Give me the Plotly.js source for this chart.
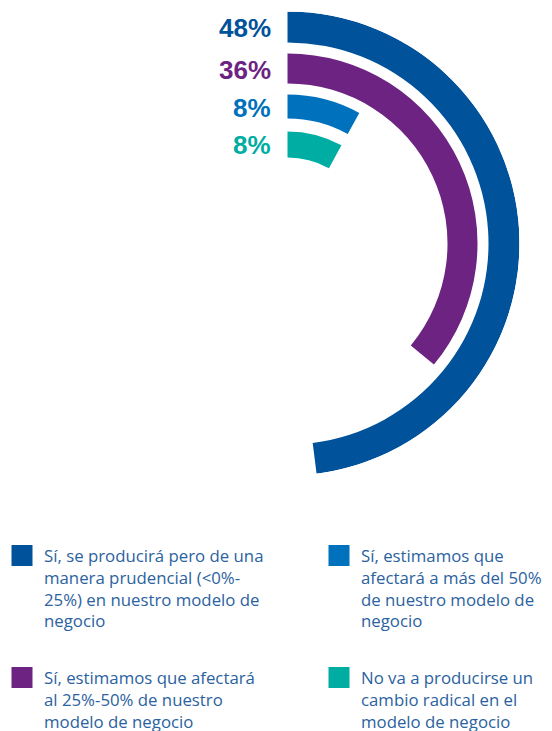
<!DOCTYPE html>
<html>
<head>
<meta charset="utf-8">
<script src="https://cdn.plot.ly/plotly-3.0.1.min.js"></script>
<style>html,body{margin:0;padding:0;background:#fff;}#chart{width:552px;height:731px;}</style>
</head>
<body>
<div id="chart"></div>
<script>
// ---- data ----
var categories = [
  "Sí, se producirá pero de una<br>manera prudencial (&lt;0%-<br>25%) en nuestro modelo de<br>negocio",
  "Sí, estimamos que afectará<br>al 25%-50% de nuestro<br>modelo de negocio",
  "Sí, estimamos que<br>afectará a más del 50%<br>de nuestro modelo de<br>negocio",
  "No va a producirse un<br>cambio radical en el<br>modelo de negocio"
];
var values = [48, 36, 8, 8];
var valueLabels = ["48%", "36%", "8%", "8%"];

// ---- style ----
var colors = ["#00529B", "#6C2382", "#0071BC", "#00ADA2"];
var ringOuter = [232, 190, 149, 112];
var ringThick = [31, 30, 24, 26];
var W = 552, H = 731;
var cx = 287.5, cy = 243.5, R = 232;
var legendPos = [[0, 538], [0, 660], [317, 538], [317, 660]]; // px (left, top)
var legendNames = ["legend", "legend3", "legend2", "legend4"];
var textColor = "#2B62A0";

var traces = [];
values.forEach(function (v, i) {
  var span = v / 100 * 360;
  traces.push({
    type: "barpolar",
    r: [ringThick[i]],
    base: [ringOuter[i] - ringThick[i]],
    theta: [span / 2],
    width: [span],
    marker: { color: colors[i], line: { width: 0 } },
    name: categories[i],
    showlegend: false,
    hoverinfo: "skip"
  });
});
values.forEach(function (v, i) {
  traces.push({
    type: "scatterpolar",
    r: [null], theta: [null],
    mode: "markers",
    marker: { symbol: "square", size: 16, color: colors[i], line: { width: 5, color: colors[i] } },
    name: categories[i],
    legend: legendNames[i],
    showlegend: true,
    hoverinfo: "skip"
  });
});

var annotations = valueLabels.map(function (t, i) {
  var rMid = ringOuter[i] - ringThick[i] / 2;
  return {
    xref: "paper", yref: "paper",
    x: (cx - 15) / W, y: 1 - (cy - rMid + 1) / H,
    xanchor: "right", yanchor: "middle",
    text: "<b>" + t + "</b>", showarrow: false,
    font: { family: "Liberation Sans, Arial, sans-serif", size: 26, color: colors[i] }
  };
});

var layout = {
  width: W, height: H, autosize: false,
  margin: { l: 0, r: 0, t: 0, b: 0, pad: 0, autoexpand: false },
  paper_bgcolor: "#fff",
  showlegend: true,
  polar: {
    domain: { x: [(cx - R) / W, (cx + R) / W], y: [1 - (cy + R) / H, 1 - (cy - R) / H] },
    bgcolor: "rgba(0,0,0,0)",
    hole: 0,
    radialaxis: { visible: false, range: [0, R], autorange: false, showgrid: false, showline: false },
    angularaxis: { visible: false, direction: "clockwise", rotation: 90, showgrid: false, showline: false, ticks: "" }
  },
  annotations: annotations
};
legendNames.forEach(function (ln, k) {
  var p = legendPos[k];
  layout[ln] = {
    x: p[0] / W, y: 1 - p[1] / H, xanchor: "left", yanchor: "top",
    bgcolor: "rgba(0,0,0,0)", borderwidth: 0,
    font: { family: "Open Sans, Liberation Sans, Arial, sans-serif", size: 16.8, color: textColor },
    valign: "top", itemwidth: 34, itemclick: false, itemdoubleclick: false
  };
});

Plotly.newPlot("chart", traces, layout, { staticPlot: true, displayModeBar: false });
</script>
</body>
</html>
